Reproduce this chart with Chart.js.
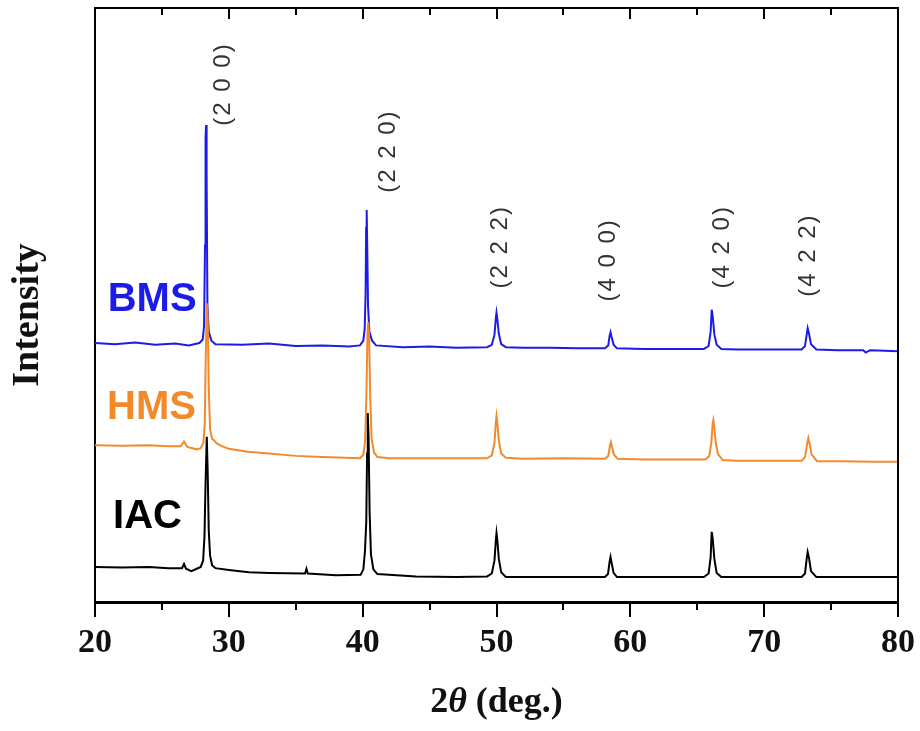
<!DOCTYPE html>
<html>
<head>
<meta charset="utf-8">
<script src="https://cdn.jsdelivr.net/npm/chart.js@4.4.1/dist/chart.umd.min.js"></script>
<style>
  html, body { margin: 0; padding: 0; background: #fff; }
  #xrd { display: block; }
</style>
</head>
<body>
<canvas id="xrd" width="920" height="731"></canvas>
<script>
// sample names (top to bottom in the figure)
const samples = ['BMS', 'HMS', 'IAC'];

// Miller indices of the labelled reflections
const hklLabels = ['(2 0 0)', '(2 2 0)', '(2 2 2)', '(4 0 0)', '(4 2 0)', '(4 2 2)'];

// x ticks (2 theta, deg.)
const xTicks = [20, 30, 40, 50, 60, 70, 80];

// patterns: [2 theta, intensity (a.u., offset)]
const bmsPattern = [
  [20, 43.6], [21.5, 43.4], [23, 43.7], [24.5, 43.3], [26, 43.5], [27, 43.2], [27.8, 43.6],
  [28.05, 44.2], [28.15, 46.5], [28.22, 60], [28.26, 78], [28.3, 80.3], [28.34, 72],
  [28.4, 50], [28.5, 45.5], [28.7, 44], [29, 43.4], [31, 43.3], [33, 43.5], [35, 43.1],
  [37, 43.2], [39, 43.0], [39.8, 43.2], [40.05, 44.0], [40.15, 46], [40.22, 52], [40.26, 63],
  [40.3, 66], [40.34, 60], [40.4, 50], [40.5, 45.5], [40.7, 44], [41, 43.2], [43, 42.9],
  [45, 43.0], [47, 42.8], [49.3, 42.9], [49.65, 43.3], [49.85, 45.0], [49.95, 47.8],
  [50.0, 48.7], [50.07, 47.5], [50.17, 45.2], [50.35, 43.4], [50.7, 42.9], [52, 42.8],
  [54, 42.8], [56, 42.7], [58.1, 42.7], [58.35, 43.2], [58.45, 44.8], [58.52, 45.4],
  [58.6, 44.6], [58.75, 43.3], [59.0, 42.7], [61, 42.6], [63, 42.6], [65.5, 42.6],
  [65.85, 43.1], [66.0, 45.5], [66.08, 49.2], [66.16, 48.0], [66.28, 45.0], [66.45, 43.3],
  [66.8, 42.6], [68, 42.5], [70, 42.5], [72.8, 42.5], [73.05, 43.1], [73.18, 45.0],
  [73.25, 46.1], [73.35, 45.2], [73.5, 43.4], [73.9, 42.5], [75.5, 42.4], [77.4, 42.4],
  [77.6, 42.0], [77.9, 42.4], [79, 42.3], [80, 42.2]
];

const hmsPattern = [
  [20, 26.4], [22, 26.3], [24, 26.4], [25.5, 26.2], [26.4, 26.2], [26.65, 27.0], [26.9, 26.1],
  [27.6, 25.7], [27.9, 25.9], [28.1, 26.8], [28.2, 30], [28.28, 42], [28.35, 50.3],
  [28.42, 48], [28.5, 36], [28.6, 29], [28.75, 27.5], [28.9, 27.2], [29.1, 26.7],
  [29.5, 26.2], [30, 25.8], [31.4, 25.3], [33, 25.0], [35, 24.6], [37, 24.4], [39.8, 24.2],
  [40.05, 24.8], [40.18, 27], [40.28, 35], [40.36, 45.5], [40.42, 47.1], [40.49, 44],
  [40.57, 34], [40.67, 27.5], [40.85, 25.2], [41.1, 24.4], [42, 24.2], [45, 24.2],
  [47, 24.2], [49.3, 24.2], [49.65, 24.7], [49.85, 26.8], [49.95, 30.2], [50.0, 31.3],
  [50.07, 30.0], [50.17, 27.2], [50.35, 25.0], [50.7, 24.3], [52, 24.1], [55, 24.2],
  [58.1, 24.1], [58.35, 24.6], [58.47, 26.2], [58.55, 26.9], [58.63, 26.1], [58.78, 24.8],
  [59.05, 24.1], [61, 24.0], [63, 24.0], [65.6, 24.0], [65.9, 24.6], [66.05, 26.8],
  [66.15, 30.0], [66.2, 30.6], [66.27, 29.5], [66.38, 26.8], [66.55, 24.9], [66.9, 23.9],
  [68, 23.8], [70, 23.8], [72.8, 23.8], [73.05, 24.4], [73.2, 26.5], [73.3, 27.6],
  [73.4, 26.6], [73.55, 24.8], [73.95, 23.7], [76, 23.7], [78, 23.6], [80, 23.6]
];

const iacPattern = [
  [20, 5.9], [22, 5.8], [24, 5.9], [25.5, 5.7], [26.5, 5.7], [26.65, 6.4], [26.8, 5.6],
  [27.2, 5.2], [27.6, 5.6], [27.9, 5.9], [28.08, 7], [28.18, 11], [28.26, 20], [28.35, 27.8],
  [28.42, 22], [28.5, 12], [28.6, 7.8], [28.75, 6.2], [29, 5.7], [30, 5.4], [31.5, 5.0],
  [33, 4.9], [35.7, 4.8], [35.8, 5.6], [35.9, 4.8], [38, 4.5], [39.85, 4.6], [40.05, 5.5],
  [40.17, 8.5], [40.27, 13.5], [40.33, 25], [40.38, 31.8], [40.44, 28], [40.52, 15],
  [40.62, 8], [40.8, 5.5], [41.1, 4.7], [44, 4.3], [47, 4.2], [49.3, 4.3], [49.65, 4.8],
  [49.85, 7.0], [49.95, 10.4], [50.0, 11.6], [50.07, 10.2], [50.17, 7.3], [50.35, 5.0],
  [50.7, 4.2], [53, 4.2], [56, 4.2], [58.1, 4.2], [58.33, 4.7], [58.45, 6.8], [58.52, 7.6],
  [58.6, 6.6], [58.75, 4.9], [59.0, 4.2], [61, 4.2], [63, 4.2], [65.5, 4.2], [65.85, 4.8],
  [66.0, 7.5], [66.08, 11.8], [66.16, 10.6], [66.28, 7.2], [66.45, 4.9], [66.8, 4.2],
  [68, 4.2], [70, 4.2], [72.8, 4.2], [73.05, 4.8], [73.18, 7.3], [73.25, 8.4], [73.35, 7.4],
  [73.5, 5.2], [73.9, 4.2], [76, 4.2], [78, 4.2], [80, 4.2]
];

// ---- styling / annotation anchors (data units) ----
const colors = { BMS: '#1c1ce8', HMS: '#f28a2c', IAC: '#000000' };
const nameAnchors = { BMS: [20.95, 50.8], HMS: [20.9, 32.7], IAC: [21.35, 14.3] };
const hklAnchors = [[29.57, 87.2], [41.9, 75.9], [50.27, 59.8], [58.34, 57.6], [66.86, 59.8], [73.29, 58.4]];

const serif = '"Liberation Serif", "Times New Roman", serif';
const sans = '"Liberation Sans", Arial, sans-serif';

const toXY = arr => arr.map(p => ({ x: p[0], y: p[1] }));

// frame, ticks, titles and text labels
const decorPlugin = {
  id: 'decor',
  afterDraw(chart) {
    const ctx = chart.ctx;
    const area = chart.chartArea;
    const xs = chart.scales.x;
    const ys = chart.scales.y;
    ctx.save();

    // top and right frame
    ctx.strokeStyle = '#000';
    ctx.lineWidth = 2;
    ctx.beginPath();
    ctx.moveTo(area.left, area.top);
    ctx.lineTo(area.right, area.top);
    ctx.lineTo(area.right, area.bottom);
    ctx.stroke();

    // ticks every 5 deg, longer at 10
    for (let v = 20; v <= 80; v += 5) {
      const px = Math.round(xs.getPixelForValue(v));
      const major = v % 10 === 0;
      ctx.beginPath();
      ctx.moveTo(px, area.bottom);
      ctx.lineTo(px, area.bottom + (major ? 15 : 8));
      ctx.moveTo(px, area.top);
      ctx.lineTo(px, area.top + (major ? 11 : 7));
      ctx.stroke();
    }

    // sample names
    ctx.font = 'bold 40px ' + sans;
    ctx.textAlign = 'left';
    ctx.textBaseline = 'middle';
    samples.forEach(name => {
      const a = nameAnchors[name];
      ctx.fillStyle = colors[name];
      ctx.fillText(name, xs.getPixelForValue(a[0]), ys.getPixelForValue(a[1]));
    });

    // Miller indices, rotated
    ctx.font = '24px ' + sans;
    ctx.fillStyle = '#333';
    ctx.textAlign = 'center';
    ctx.letterSpacing = '2px';
    hklLabels.forEach((t, i) => {
      const a = hklAnchors[i];
      ctx.save();
      ctx.translate(xs.getPixelForValue(a[0]), ys.getPixelForValue(a[1]));
      ctx.rotate(-Math.PI / 2);
      ctx.fillText(t, 0, 0);
      ctx.restore();
    });
    ctx.letterSpacing = '0px';

    // y title
    ctx.fillStyle = '#111';
    ctx.font = 'bold 38px ' + serif;
    ctx.save();
    ctx.translate(28, 315);
    ctx.rotate(-Math.PI / 2);
    ctx.fillText('Intensity', 0, 0);
    ctx.restore();

    // x title: 2θ (deg.) with italic theta
    const parts = [
      ['2', 'bold 36px ' + serif],
      ['\u03b8', 'italic bold 36px ' + serif],
      [' (deg.)', 'bold 36px ' + serif]
    ];
    let total = 0;
    parts.forEach(p => { ctx.font = p[1]; total += ctx.measureText(p[0]).width; });
    let cx = (area.left + area.right) / 2 - total / 2;
    ctx.textAlign = 'left';
    parts.forEach(p => {
      ctx.font = p[1];
      ctx.fillText(p[0], cx, 703);
      cx += ctx.measureText(p[0]).width;
    });

    ctx.restore();
  }
};

new Chart(document.getElementById('xrd'), {
  type: 'scatter',
  data: {
    datasets: [
      { label: 'IAC', data: toXY(iacPattern), borderColor: colors.IAC, order: 1 },
      { label: 'HMS', data: toXY(hmsPattern), borderColor: colors.HMS, order: 2 },
      { label: 'BMS', data: toXY(bmsPattern), borderColor: colors.BMS, order: 3 }
    ].map(d => Object.assign(d, { showLine: true, pointRadius: 0, borderWidth: 2, tension: 0, fill: false }))
  },
  options: {
    responsive: false,
    animation: false,
    layout: { padding: { top: 8, right: 22, left: 0, bottom: 0 } },
    plugins: { legend: { display: false }, tooltip: { enabled: false } },
    scales: {
      x: {
        type: 'linear',
        min: 20,
        max: 80,
        afterFit: s => { s.height = 129; s.paddingLeft = 0; s.paddingRight = 0; },
        afterBuildTicks: s => { s.ticks = xTicks.map(v => ({ value: v })); },
        ticks: {
          font: { family: serif, size: 34, weight: 'bold' },
          color: '#111',
          padding: 21,
          maxRotation: 0,
          autoSkip: false
        },
        grid: { display: false, drawTicks: false, tickLength: 0 },
        border: { display: true, color: '#000', width: 3 }
      },
      y: {
        min: 0,
        max: 100,
        afterFit: s => { s.width = 95; },
        ticks: { display: false },
        grid: { display: false, drawTicks: false, tickLength: 0 },
        border: { display: true, color: '#000', width: 2 }
      }
    }
  },
  plugins: [decorPlugin]
});
</script>
</body>
</html>
